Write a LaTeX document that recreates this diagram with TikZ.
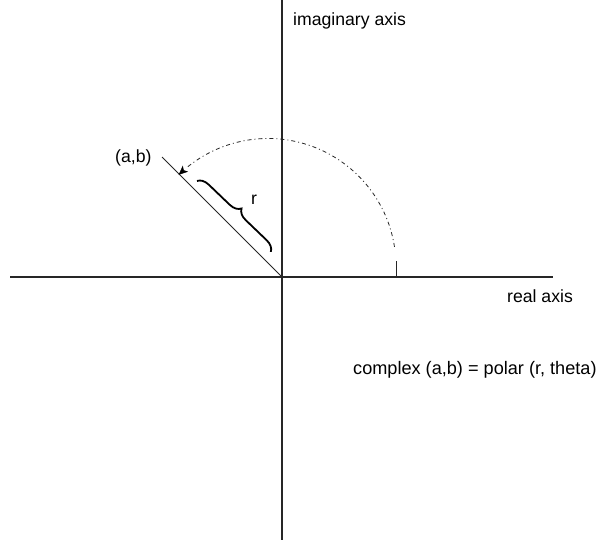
\documentclass[tikz,border=0pt]{standalone}
\usepackage{fontspec}
\setmainfont{Liberation Sans}
\usetikzlibrary{arrows.meta,decorations.pathreplacing,calc}
\begin{document}
\begin{tikzpicture}[x=1bp,y=-1bp,
  axis/.style={line width=1.2bp, black!85},
  thinline/.style={line width=0.8bp, black!85},
  lbl/.style={font=\fontsize{17.7}{20}\selectfont, inner sep=0pt, anchor=base west},
  arcline/.style={line width=0.8bp, black!85, dash pattern=on 4bp off 3bp on 1bp off 3bp},
  headfill/.style={fill=black, draw=black, line width=0.5bp, line join=miter},
  bracestyle/.style={decorate, decoration={brace, amplitude=11bp}, line width=1.8bp}]
\useasboundingbox (0,0) rectangle (601,547);
% axes
\coordinate (O) at (282,277);
\coordinate (L) at (10,277);
\coordinate (R) at (553,277);
\coordinate (T) at (282,0);
\coordinate (B) at (282,540);
\draw[axis] (L) -- (R);
\draw[axis] (T) -- (B);
% radius line
\coordinate (P) at (162,157);
\draw[thinline] (P) -- (O);
% tick
\coordinate (tick0) at (396,277);
\coordinate (tick1) at (396,261);
\draw[thinline] (tick0) -- (tick1);
% arc
\coordinate (C) at (268,266.5);
\coordinate (A0) at ([shift={(-8.8:128)}]C);
\coordinate (A1) at ([shift={(-130:128)}]C);
\coordinate (A2) at ([shift={(-134:128)}]C);
\draw[arcline] (A0) arc[start angle=-8.8, end angle=-130, radius=128];
% arrow head
\coordinate (hb) at ($(A2)!8bp!(A1)$);
\coordinate (hn) at ($(A2)!6bp!(A1)$);
\coordinate (h1) at ($(hb)!3.5bp!90:(A2)$);
\coordinate (h2) at ($(hb)!3.5bp!-90:(A2)$);
\filldraw[headfill] (A2) -- (h1) -- (hn) -- (h2) -- cycle;
% brace
\coordinate (b1) at (197,181);
\coordinate (b2) at (271,252);
\draw[bracestyle] (b1) -- (b2);
% labels
\node[lbl] (imag) at (293,26) {imaginary axis};
\node[lbl] (real) at (507,302) {real axis};
\node[lbl] (ab) at (115,163) {(a,b)};
\node[lbl] (rl) at (251,205) {r};
\node[lbl, font=\fontsize{18.2}{20}\selectfont] (cx) at (353,374) {complex (a,b) = polar (r, theta)};
\end{tikzpicture}
\end{document}
